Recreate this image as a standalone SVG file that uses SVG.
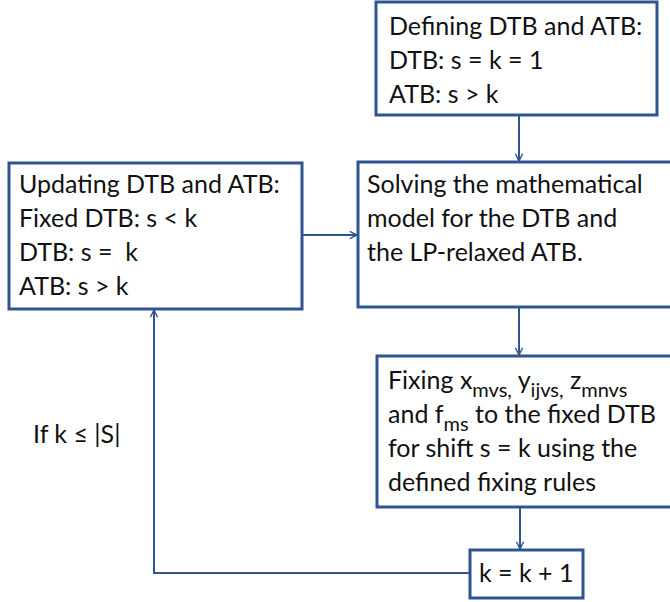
<svg xmlns="http://www.w3.org/2000/svg" width="670" height="602" viewBox="0 0 670 602">
  <style>
    .box { fill: #ffffff; stroke: #2F5590; stroke-width: 3; }
    .link { fill: none; stroke: #2F5590; stroke-width: 2; }
    .t { font-family: Lato, "Open Sans", "Liberation Sans", sans-serif; font-size: 25px; fill: #111111; }
    .sub { font-size: 20px; }
  </style>
  <defs>
    <marker id="arrow" viewBox="0 0 10 10" refX="9" refY="5" markerWidth="9" markerHeight="9" markerUnits="userSpaceOnUse" orient="auto">
      <path d="M1,1 L9,5 L1,9" fill="none" stroke="#2F5590" stroke-width="1.6"/>
    </marker>
  </defs>

  <g id="connectors">
    <line class="link" x1="519" y1="115" x2="519" y2="161" marker-end="url(#arrow)"/>
    <line class="link" x1="302" y1="235" x2="357" y2="235" marker-end="url(#arrow)"/>
    <line class="link" x1="519" y1="307" x2="519" y2="355" marker-end="url(#arrow)"/>
    <line class="link" x1="520" y1="507" x2="520" y2="549" marker-end="url(#arrow)"/>
    <polyline class="link" points="470,573 154,573 154,310" marker-end="url(#arrow)"/>
  </g>

  <g id="define">
    <rect class="box" x="376" y="2" width="281" height="113"/>
    <text class="t" x="389" y="35">Defining DTB and ATB:</text>
    <text class="t" x="389" y="69">DTB: s = k = 1</text>
    <text class="t" x="389" y="103">ATB: s &gt; k</text>
  </g>

  <g id="solve">
    <rect class="box" x="358" y="162" width="320" height="145"/>
    <text class="t" x="367" y="193">Solving the mathematical</text>
    <text class="t" x="367" y="227">model for the DTB and</text>
    <text class="t" x="367" y="261">the LP-relaxed ATB.</text>
  </g>

  <g id="update">
    <rect class="box" x="9" y="163" width="293" height="146"/>
    <text class="t" x="19" y="193">Updating DTB and ATB:</text>
    <text class="t" x="19" y="227">Fixed DTB: s &lt; k</text>
    <text class="t" x="19" y="261">DTB: s =&#160; k</text>
    <text class="t" x="19" y="295">ATB: s &gt; k</text>
  </g>

  <g id="fix">
    <rect class="box" x="377" y="356" width="300" height="151"/>
    <text class="t" x="388" y="389">Fixing x<tspan class="sub" dy="8">mvs,</tspan><tspan dy="-8"> y</tspan><tspan class="sub" dy="8">ijvs,</tspan><tspan dy="-8"> z</tspan><tspan class="sub" dy="8">mnvs</tspan></text>
    <text class="t" x="388" y="423">and f<tspan class="sub" dy="8">ms</tspan><tspan dy="-8"> to the fixed DTB</tspan></text>
    <text class="t" x="388" y="457">for shift s = k using the</text>
    <text class="t" x="388" y="491">defined fixing rules</text>
  </g>

  <g id="increment">
    <rect class="box" x="470" y="550" width="113" height="48"/>
    <text class="t" x="479" y="582">k = k + 1</text>
  </g>

  <g id="loop-label">
    <text class="t" x="33" y="443">If k ≤ |S|</text>
  </g>
</svg>
